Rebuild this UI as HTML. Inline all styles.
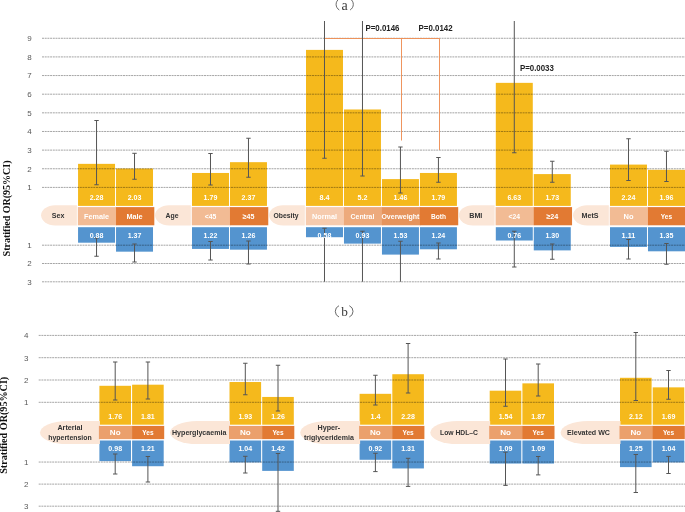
<!DOCTYPE html>
<html><head><meta charset="utf-8"><title>chart</title>
<style>html,body{margin:0;padding:0;background:#fff;overflow:hidden}body{width:685px;height:512px;font-family:"Liberation Sans",sans-serif}</style></head>
<body>
<svg width="685" height="512" viewBox="0 0 685 512" style="display:block;will-change:transform">
<g>
<rect x="78.05" y="163.85" width="36.98" height="42.05" fill="#F5B91C"/>
<rect x="78.05" y="227.2" width="36.98" height="15.50" fill="#5494CF"/>
<rect x="116.03" y="168.50" width="36.98" height="37.40" fill="#F5B91C"/>
<rect x="116.03" y="227.2" width="36.98" height="24.47" fill="#5494CF"/>
<rect x="192.00" y="172.97" width="36.98" height="32.93" fill="#F5B91C"/>
<rect x="192.00" y="227.2" width="36.98" height="21.73" fill="#5494CF"/>
<rect x="229.98" y="162.17" width="36.98" height="43.73" fill="#F5B91C"/>
<rect x="229.98" y="227.2" width="36.98" height="22.46" fill="#5494CF"/>
<rect x="306.00" y="49.89" width="36.98" height="156.01" fill="#F5B91C"/>
<rect x="306.00" y="227.2" width="36.98" height="10.01" fill="#5494CF"/>
<rect x="343.98" y="109.48" width="36.98" height="96.42" fill="#F5B91C"/>
<rect x="343.98" y="227.2" width="36.98" height="16.42" fill="#5494CF"/>
<rect x="381.96" y="179.11" width="36.98" height="26.79" fill="#F5B91C"/>
<rect x="381.96" y="227.2" width="36.98" height="27.40" fill="#5494CF"/>
<rect x="419.94" y="172.97" width="36.98" height="32.93" fill="#F5B91C"/>
<rect x="419.94" y="227.2" width="36.98" height="22.09" fill="#5494CF"/>
<rect x="495.80" y="82.85" width="36.98" height="123.05" fill="#F5B91C"/>
<rect x="495.80" y="227.2" width="36.98" height="13.31" fill="#5494CF"/>
<rect x="533.78" y="174.09" width="36.98" height="31.81" fill="#F5B91C"/>
<rect x="533.78" y="227.2" width="36.98" height="23.19" fill="#5494CF"/>
<rect x="610.00" y="164.59" width="36.98" height="41.31" fill="#F5B91C"/>
<rect x="610.00" y="227.2" width="36.98" height="19.71" fill="#5494CF"/>
<rect x="647.98" y="169.80" width="37.02" height="36.10" fill="#F5B91C"/>
<rect x="647.98" y="227.2" width="37.02" height="24.11" fill="#5494CF"/>
<rect x="99.40" y="385.80" width="31.60" height="38.90" fill="#F5B91C"/>
<rect x="99.40" y="440.5" width="31.60" height="20.61" fill="#5494CF"/>
<rect x="132.10" y="384.69" width="31.60" height="40.01" fill="#F5B91C"/>
<rect x="132.10" y="440.5" width="31.60" height="25.72" fill="#5494CF"/>
<rect x="229.50" y="382.02" width="31.60" height="42.68" fill="#F5B91C"/>
<rect x="229.50" y="440.5" width="31.60" height="21.94" fill="#5494CF"/>
<rect x="262.20" y="396.94" width="31.60" height="27.76" fill="#F5B91C"/>
<rect x="262.20" y="440.5" width="31.60" height="30.39" fill="#5494CF"/>
<rect x="359.60" y="393.82" width="31.60" height="30.88" fill="#F5B91C"/>
<rect x="359.60" y="440.5" width="31.60" height="19.27" fill="#5494CF"/>
<rect x="392.30" y="374.22" width="31.60" height="50.48" fill="#F5B91C"/>
<rect x="392.30" y="440.5" width="31.60" height="27.95" fill="#5494CF"/>
<rect x="489.70" y="390.70" width="31.60" height="34.00" fill="#F5B91C"/>
<rect x="489.70" y="440.5" width="31.60" height="23.05" fill="#5494CF"/>
<rect x="522.40" y="383.36" width="31.60" height="41.34" fill="#F5B91C"/>
<rect x="522.40" y="440.5" width="31.60" height="23.05" fill="#5494CF"/>
<rect x="620.00" y="377.79" width="31.60" height="46.91" fill="#F5B91C"/>
<rect x="620.00" y="440.5" width="31.60" height="26.61" fill="#5494CF"/>
<rect x="652.70" y="387.36" width="31.60" height="37.34" fill="#F5B91C"/>
<rect x="652.70" y="440.5" width="31.60" height="21.94" fill="#5494CF"/>
</g>
<g>
<line x1="42" y1="187.40" x2="685" y2="187.40" stroke="#000" stroke-opacity="0.45" stroke-width="0.8" stroke-dasharray="2 0.7"/>
<line x1="42" y1="168.76" x2="685" y2="168.76" stroke="#000" stroke-opacity="0.45" stroke-width="0.8" stroke-dasharray="2 0.7"/>
<line x1="42" y1="150.12" x2="685" y2="150.12" stroke="#000" stroke-opacity="0.45" stroke-width="0.8" stroke-dasharray="2 0.7"/>
<line x1="42" y1="131.48" x2="685" y2="131.48" stroke="#000" stroke-opacity="0.45" stroke-width="0.8" stroke-dasharray="2 0.7"/>
<line x1="42" y1="112.84" x2="685" y2="112.84" stroke="#000" stroke-opacity="0.45" stroke-width="0.8" stroke-dasharray="2 0.7"/>
<line x1="42" y1="94.20" x2="685" y2="94.20" stroke="#000" stroke-opacity="0.45" stroke-width="0.8" stroke-dasharray="2 0.7"/>
<line x1="42" y1="75.56" x2="685" y2="75.56" stroke="#000" stroke-opacity="0.45" stroke-width="0.8" stroke-dasharray="2 0.7"/>
<line x1="42" y1="56.92" x2="685" y2="56.92" stroke="#000" stroke-opacity="0.45" stroke-width="0.8" stroke-dasharray="2 0.7"/>
<line x1="42" y1="38.28" x2="685" y2="38.28" stroke="#000" stroke-opacity="0.45" stroke-width="0.8" stroke-dasharray="2 0.7"/>
<line x1="42" y1="245.20" x2="685" y2="245.20" stroke="#000" stroke-opacity="0.45" stroke-width="0.8" stroke-dasharray="2 0.7"/>
<line x1="42" y1="263.50" x2="685" y2="263.50" stroke="#000" stroke-opacity="0.45" stroke-width="0.8" stroke-dasharray="2 0.7"/>
<line x1="42" y1="281.80" x2="685" y2="281.80" stroke="#000" stroke-opacity="0.45" stroke-width="0.8" stroke-dasharray="2 0.7"/>
<line x1="38.7" y1="402.30" x2="685" y2="402.30" stroke="#000" stroke-opacity="0.45" stroke-width="0.8" stroke-dasharray="2 0.7"/>
<line x1="38.7" y1="380.00" x2="685" y2="380.00" stroke="#000" stroke-opacity="0.45" stroke-width="0.8" stroke-dasharray="2 0.7"/>
<line x1="38.7" y1="357.70" x2="685" y2="357.70" stroke="#000" stroke-opacity="0.45" stroke-width="0.8" stroke-dasharray="2 0.7"/>
<line x1="38.7" y1="335.40" x2="685" y2="335.40" stroke="#000" stroke-opacity="0.45" stroke-width="0.8" stroke-dasharray="2 0.7"/>
<line x1="38.7" y1="462.06" x2="685" y2="462.06" stroke="#000" stroke-opacity="0.45" stroke-width="0.8" stroke-dasharray="2 0.7"/>
<line x1="38.7" y1="484.12" x2="685" y2="484.12" stroke="#000" stroke-opacity="0.45" stroke-width="0.8" stroke-dasharray="2 0.7"/>
<line x1="38.7" y1="506.18" x2="685" y2="506.18" stroke="#000" stroke-opacity="0.45" stroke-width="0.8" stroke-dasharray="2 0.7"/>
</g>
<g>
<path d="M76.85 205.3 H55.05 A14 10.05 0 0 0 55.05 225.4 H76.85 Z" fill="#FBE6D7"/>
<rect x="77.85" y="207.1" width="38.68" height="18.2" fill="#F2BB94"/>
<rect x="116.03" y="207.1" width="38.28" height="18.2" fill="#E27A33"/>
<path d="M190.80 205.3 H169.00 A14 10.05 0 0 0 169.00 225.4 H190.80 Z" fill="#FBE6D7"/>
<rect x="191.80" y="207.1" width="38.68" height="18.2" fill="#F2BB94"/>
<rect x="229.98" y="207.1" width="38.28" height="18.2" fill="#E27A33"/>
<path d="M304.80 205.3 H283.00 A14 10.05 0 0 0 283.00 225.4 H304.80 Z" fill="#FBE6D7"/>
<rect x="305.80" y="207.1" width="38.68" height="18.2" fill="#F6CBAE"/>
<rect x="343.98" y="207.1" width="38.48" height="18.2" fill="#EDAA7C"/>
<rect x="381.96" y="207.1" width="38.48" height="18.2" fill="#E6945C"/>
<rect x="419.94" y="207.1" width="38.28" height="18.2" fill="#E27A33"/>
<path d="M494.60 205.3 H472.80 A14 10.05 0 0 0 472.80 225.4 H494.60 Z" fill="#FBE6D7"/>
<rect x="495.60" y="207.1" width="38.68" height="18.2" fill="#F2BB94"/>
<rect x="533.78" y="207.1" width="38.28" height="18.2" fill="#E27A33"/>
<path d="M608.80 205.3 H587.00 A14 10.05 0 0 0 587.00 225.4 H608.80 Z" fill="#FBE6D7"/>
<rect x="609.80" y="207.1" width="38.68" height="18.2" fill="#F2BB94"/>
<rect x="647.98" y="207.1" width="38.28" height="18.2" fill="#E27A33"/>
<path d="M99.90 421 H67.00 A27 11.55 0 0 0 67.00 444.1 H99.90 Z" fill="#FBE6D7"/>
<rect x="98.90" y="425.9" width="33.70" height="13.2" fill="#EBA06C"/>
<rect x="132.10" y="425.9" width="32.10" height="13.2" fill="#E27A33"/>
<path d="M230.00 421 H197.10 A27 11.55 0 0 0 197.10 444.1 H230.00 Z" fill="#FBE6D7"/>
<rect x="229.00" y="425.9" width="33.70" height="13.2" fill="#EBA06C"/>
<rect x="262.20" y="425.9" width="32.10" height="13.2" fill="#E27A33"/>
<path d="M360.10 421 H327.20 A27 11.55 0 0 0 327.20 444.1 H360.10 Z" fill="#FBE6D7"/>
<rect x="359.10" y="425.9" width="33.70" height="13.2" fill="#EBA06C"/>
<rect x="392.30" y="425.9" width="32.10" height="13.2" fill="#E27A33"/>
<path d="M490.20 421 H457.30 A27 11.55 0 0 0 457.30 444.1 H490.20 Z" fill="#FBE6D7"/>
<rect x="489.20" y="425.9" width="33.70" height="13.2" fill="#EBA06C"/>
<rect x="522.40" y="425.9" width="32.10" height="13.2" fill="#E27A33"/>
<path d="M620.50 421 H587.60 A27 11.55 0 0 0 587.60 444.1 H620.50 Z" fill="#FBE6D7"/>
<rect x="619.50" y="425.9" width="33.70" height="13.2" fill="#EBA06C"/>
<rect x="652.70" y="425.9" width="32.10" height="13.2" fill="#E27A33"/>
</g>
<path d="M324.5 38.5 H439.5 V150 M401.5 38.5 V140.5" fill="none" stroke="#EE8F55" stroke-width="0.95"/>
<g>
<line x1="96.54" y1="120.5" x2="96.54" y2="184.75" stroke="#555555" stroke-width="1"/>
<line x1="94.34" y1="120.5" x2="98.74" y2="120.5" stroke="#555555" stroke-width="1"/>
<line x1="94.34" y1="184.75" x2="98.74" y2="184.75" stroke="#555555" stroke-width="1"/>
<line x1="96.54" y1="238" x2="96.54" y2="256.25" stroke="#555555" stroke-width="1"/>
<line x1="94.34" y1="238" x2="98.74" y2="238" stroke="#555555" stroke-width="1"/>
<line x1="94.34" y1="256.25" x2="98.74" y2="256.25" stroke="#555555" stroke-width="1"/>
<line x1="134.52" y1="153.3" x2="134.52" y2="179.25" stroke="#555555" stroke-width="1"/>
<line x1="132.32" y1="153.3" x2="136.72" y2="153.3" stroke="#555555" stroke-width="1"/>
<line x1="132.32" y1="179.25" x2="136.72" y2="179.25" stroke="#555555" stroke-width="1"/>
<line x1="134.52" y1="244" x2="134.52" y2="262" stroke="#555555" stroke-width="1"/>
<line x1="132.32" y1="244" x2="136.72" y2="244" stroke="#555555" stroke-width="1"/>
<line x1="132.32" y1="262" x2="136.72" y2="262" stroke="#555555" stroke-width="1"/>
<line x1="210.49" y1="153.5" x2="210.49" y2="185" stroke="#555555" stroke-width="1"/>
<line x1="208.29" y1="153.5" x2="212.69" y2="153.5" stroke="#555555" stroke-width="1"/>
<line x1="208.29" y1="185" x2="212.69" y2="185" stroke="#555555" stroke-width="1"/>
<line x1="210.49" y1="241.5" x2="210.49" y2="260" stroke="#555555" stroke-width="1"/>
<line x1="208.29" y1="241.5" x2="212.69" y2="241.5" stroke="#555555" stroke-width="1"/>
<line x1="208.29" y1="260" x2="212.69" y2="260" stroke="#555555" stroke-width="1"/>
<line x1="248.47" y1="138.25" x2="248.47" y2="177.25" stroke="#555555" stroke-width="1"/>
<line x1="246.27" y1="138.25" x2="250.67" y2="138.25" stroke="#555555" stroke-width="1"/>
<line x1="246.27" y1="177.25" x2="250.67" y2="177.25" stroke="#555555" stroke-width="1"/>
<line x1="248.47" y1="241" x2="248.47" y2="264" stroke="#555555" stroke-width="1"/>
<line x1="246.27" y1="241" x2="250.67" y2="241" stroke="#555555" stroke-width="1"/>
<line x1="246.27" y1="264" x2="250.67" y2="264" stroke="#555555" stroke-width="1"/>
<line x1="324.49" y1="21" x2="324.49" y2="158.25" stroke="#555555" stroke-width="1"/>
<line x1="322.29" y1="158.25" x2="326.69" y2="158.25" stroke="#555555" stroke-width="1"/>
<line x1="324.49" y1="228.25" x2="324.49" y2="281.75" stroke="#555555" stroke-width="1"/>
<line x1="322.29" y1="228.25" x2="326.69" y2="228.25" stroke="#555555" stroke-width="1"/>
<line x1="362.47" y1="21" x2="362.47" y2="176" stroke="#555555" stroke-width="1"/>
<line x1="360.27" y1="176" x2="364.67" y2="176" stroke="#555555" stroke-width="1"/>
<line x1="362.47" y1="231.25" x2="362.47" y2="281.75" stroke="#555555" stroke-width="1"/>
<line x1="360.27" y1="231.25" x2="364.67" y2="231.25" stroke="#555555" stroke-width="1"/>
<line x1="400.45" y1="147" x2="400.45" y2="193" stroke="#555555" stroke-width="1"/>
<line x1="398.25" y1="147" x2="402.65" y2="147" stroke="#555555" stroke-width="1"/>
<line x1="398.25" y1="193" x2="402.65" y2="193" stroke="#555555" stroke-width="1"/>
<line x1="400.45" y1="241.25" x2="400.45" y2="281.75" stroke="#555555" stroke-width="1"/>
<line x1="398.25" y1="241.25" x2="402.65" y2="241.25" stroke="#555555" stroke-width="1"/>
<line x1="438.43" y1="157.5" x2="438.43" y2="182.25" stroke="#555555" stroke-width="1"/>
<line x1="436.23" y1="157.5" x2="440.63" y2="157.5" stroke="#555555" stroke-width="1"/>
<line x1="436.23" y1="182.25" x2="440.63" y2="182.25" stroke="#555555" stroke-width="1"/>
<line x1="438.43" y1="243" x2="438.43" y2="259" stroke="#555555" stroke-width="1"/>
<line x1="436.23" y1="243" x2="440.63" y2="243" stroke="#555555" stroke-width="1"/>
<line x1="436.23" y1="259" x2="440.63" y2="259" stroke="#555555" stroke-width="1"/>
<line x1="514.29" y1="21" x2="514.29" y2="152.75" stroke="#555555" stroke-width="1"/>
<line x1="512.09" y1="152.75" x2="516.49" y2="152.75" stroke="#555555" stroke-width="1"/>
<line x1="514.29" y1="231.25" x2="514.29" y2="267" stroke="#555555" stroke-width="1"/>
<line x1="512.09" y1="231.25" x2="516.49" y2="231.25" stroke="#555555" stroke-width="1"/>
<line x1="512.09" y1="267" x2="516.49" y2="267" stroke="#555555" stroke-width="1"/>
<line x1="552.27" y1="161.25" x2="552.27" y2="182.25" stroke="#555555" stroke-width="1"/>
<line x1="550.07" y1="161.25" x2="554.47" y2="161.25" stroke="#555555" stroke-width="1"/>
<line x1="550.07" y1="182.25" x2="554.47" y2="182.25" stroke="#555555" stroke-width="1"/>
<line x1="552.27" y1="244" x2="552.27" y2="259.25" stroke="#555555" stroke-width="1"/>
<line x1="550.07" y1="244" x2="554.47" y2="244" stroke="#555555" stroke-width="1"/>
<line x1="550.07" y1="259.25" x2="554.47" y2="259.25" stroke="#555555" stroke-width="1"/>
<line x1="628.49" y1="138.75" x2="628.49" y2="180.5" stroke="#555555" stroke-width="1"/>
<line x1="626.29" y1="138.75" x2="630.69" y2="138.75" stroke="#555555" stroke-width="1"/>
<line x1="626.29" y1="180.5" x2="630.69" y2="180.5" stroke="#555555" stroke-width="1"/>
<line x1="628.49" y1="239.5" x2="628.49" y2="259" stroke="#555555" stroke-width="1"/>
<line x1="626.29" y1="239.5" x2="630.69" y2="239.5" stroke="#555555" stroke-width="1"/>
<line x1="626.29" y1="259" x2="630.69" y2="259" stroke="#555555" stroke-width="1"/>
<line x1="666.47" y1="151.25" x2="666.47" y2="181.5" stroke="#555555" stroke-width="1"/>
<line x1="664.27" y1="151.25" x2="668.67" y2="151.25" stroke="#555555" stroke-width="1"/>
<line x1="664.27" y1="181.5" x2="668.67" y2="181.5" stroke="#555555" stroke-width="1"/>
<line x1="666.47" y1="243.5" x2="666.47" y2="264.25" stroke="#555555" stroke-width="1"/>
<line x1="664.27" y1="243.5" x2="668.67" y2="243.5" stroke="#555555" stroke-width="1"/>
<line x1="664.27" y1="264.25" x2="668.67" y2="264.25" stroke="#555555" stroke-width="1"/>
<path d="M339.3 -1.2 A6.50 6.50 0 0 0 339.3 10.0 M350.1 -1.2 A6.50 6.50 0 0 1 350.1 10.0" fill="none" stroke="#444" stroke-width="0.8"/>
<path d="M339.0 305.7 A6.16 6.16 0 0 0 339.0 317.0 M349.3 305.7 A6.16 6.16 0 0 1 349.3 317.0" fill="none" stroke="#444" stroke-width="0.8"/>
<line x1="115.20" y1="362" x2="115.20" y2="400" stroke="#555555" stroke-width="1"/>
<line x1="113.00" y1="362" x2="117.40" y2="362" stroke="#555555" stroke-width="1"/>
<line x1="113.00" y1="400" x2="117.40" y2="400" stroke="#555555" stroke-width="1"/>
<line x1="115.20" y1="454" x2="115.20" y2="474" stroke="#555555" stroke-width="1"/>
<line x1="113.00" y1="454" x2="117.40" y2="454" stroke="#555555" stroke-width="1"/>
<line x1="113.00" y1="474" x2="117.40" y2="474" stroke="#555555" stroke-width="1"/>
<line x1="147.90" y1="362" x2="147.90" y2="399" stroke="#555555" stroke-width="1"/>
<line x1="145.70" y1="362" x2="150.10" y2="362" stroke="#555555" stroke-width="1"/>
<line x1="145.70" y1="399" x2="150.10" y2="399" stroke="#555555" stroke-width="1"/>
<line x1="147.90" y1="456.5" x2="147.90" y2="482" stroke="#555555" stroke-width="1"/>
<line x1="145.70" y1="456.5" x2="150.10" y2="456.5" stroke="#555555" stroke-width="1"/>
<line x1="145.70" y1="482" x2="150.10" y2="482" stroke="#555555" stroke-width="1"/>
<line x1="245.30" y1="363.25" x2="245.30" y2="394.75" stroke="#555555" stroke-width="1"/>
<line x1="243.10" y1="363.25" x2="247.50" y2="363.25" stroke="#555555" stroke-width="1"/>
<line x1="243.10" y1="394.75" x2="247.50" y2="394.75" stroke="#555555" stroke-width="1"/>
<line x1="245.30" y1="456.3" x2="245.30" y2="473" stroke="#555555" stroke-width="1"/>
<line x1="243.10" y1="456.3" x2="247.50" y2="456.3" stroke="#555555" stroke-width="1"/>
<line x1="243.10" y1="473" x2="247.50" y2="473" stroke="#555555" stroke-width="1"/>
<line x1="278.00" y1="365.25" x2="278.00" y2="411" stroke="#555555" stroke-width="1"/>
<line x1="275.80" y1="365.25" x2="280.20" y2="365.25" stroke="#555555" stroke-width="1"/>
<line x1="275.80" y1="411" x2="280.20" y2="411" stroke="#555555" stroke-width="1"/>
<line x1="278.00" y1="453.5" x2="278.00" y2="511.3" stroke="#555555" stroke-width="1"/>
<line x1="275.80" y1="453.5" x2="280.20" y2="453.5" stroke="#555555" stroke-width="1"/>
<line x1="275.80" y1="511.3" x2="280.20" y2="511.3" stroke="#555555" stroke-width="1"/>
<line x1="375.40" y1="375.25" x2="375.40" y2="405" stroke="#555555" stroke-width="1"/>
<line x1="373.20" y1="375.25" x2="377.60" y2="375.25" stroke="#555555" stroke-width="1"/>
<line x1="373.20" y1="405" x2="377.60" y2="405" stroke="#555555" stroke-width="1"/>
<line x1="375.40" y1="453.3" x2="375.40" y2="471.6" stroke="#555555" stroke-width="1"/>
<line x1="373.20" y1="453.3" x2="377.60" y2="453.3" stroke="#555555" stroke-width="1"/>
<line x1="373.20" y1="471.6" x2="377.60" y2="471.6" stroke="#555555" stroke-width="1"/>
<line x1="408.10" y1="343.5" x2="408.10" y2="393" stroke="#555555" stroke-width="1"/>
<line x1="405.90" y1="343.5" x2="410.30" y2="343.5" stroke="#555555" stroke-width="1"/>
<line x1="405.90" y1="393" x2="410.30" y2="393" stroke="#555555" stroke-width="1"/>
<line x1="408.10" y1="458.3" x2="408.10" y2="486.4" stroke="#555555" stroke-width="1"/>
<line x1="405.90" y1="458.3" x2="410.30" y2="458.3" stroke="#555555" stroke-width="1"/>
<line x1="405.90" y1="486.4" x2="410.30" y2="486.4" stroke="#555555" stroke-width="1"/>
<line x1="505.50" y1="359" x2="505.50" y2="406.25" stroke="#555555" stroke-width="1"/>
<line x1="503.30" y1="359" x2="507.70" y2="359" stroke="#555555" stroke-width="1"/>
<line x1="503.30" y1="406.25" x2="507.70" y2="406.25" stroke="#555555" stroke-width="1"/>
<line x1="505.50" y1="452.2" x2="505.50" y2="485.4" stroke="#555555" stroke-width="1"/>
<line x1="503.30" y1="452.2" x2="507.70" y2="452.2" stroke="#555555" stroke-width="1"/>
<line x1="503.30" y1="485.4" x2="507.70" y2="485.4" stroke="#555555" stroke-width="1"/>
<line x1="538.20" y1="364" x2="538.20" y2="396" stroke="#555555" stroke-width="1"/>
<line x1="536.00" y1="364" x2="540.40" y2="364" stroke="#555555" stroke-width="1"/>
<line x1="536.00" y1="396" x2="540.40" y2="396" stroke="#555555" stroke-width="1"/>
<line x1="538.20" y1="456.5" x2="538.20" y2="474.9" stroke="#555555" stroke-width="1"/>
<line x1="536.00" y1="456.5" x2="540.40" y2="456.5" stroke="#555555" stroke-width="1"/>
<line x1="536.00" y1="474.9" x2="540.40" y2="474.9" stroke="#555555" stroke-width="1"/>
<line x1="635.80" y1="332.5" x2="635.80" y2="400.5" stroke="#555555" stroke-width="1"/>
<line x1="633.60" y1="332.5" x2="638.00" y2="332.5" stroke="#555555" stroke-width="1"/>
<line x1="633.60" y1="400.5" x2="638.00" y2="400.5" stroke="#555555" stroke-width="1"/>
<line x1="635.80" y1="454.5" x2="635.80" y2="492.5" stroke="#555555" stroke-width="1"/>
<line x1="633.60" y1="454.5" x2="638.00" y2="454.5" stroke="#555555" stroke-width="1"/>
<line x1="633.60" y1="492.5" x2="638.00" y2="492.5" stroke="#555555" stroke-width="1"/>
<line x1="668.50" y1="370.5" x2="668.50" y2="399.25" stroke="#555555" stroke-width="1"/>
<line x1="666.30" y1="370.5" x2="670.70" y2="370.5" stroke="#555555" stroke-width="1"/>
<line x1="666.30" y1="399.25" x2="670.70" y2="399.25" stroke="#555555" stroke-width="1"/>
<line x1="668.50" y1="456.4" x2="668.50" y2="473.5" stroke="#555555" stroke-width="1"/>
<line x1="666.30" y1="456.4" x2="670.70" y2="456.4" stroke="#555555" stroke-width="1"/>
<line x1="666.30" y1="473.5" x2="670.70" y2="473.5" stroke="#555555" stroke-width="1"/>
</g>
<g>
<text x="29.60" y="190.26" font-family="Liberation Sans, sans-serif" font-size="8" font-weight="normal" fill="#595959" text-anchor="middle">1</text>
<text x="29.60" y="171.62" font-family="Liberation Sans, sans-serif" font-size="8" font-weight="normal" fill="#595959" text-anchor="middle">2</text>
<text x="29.60" y="152.98" font-family="Liberation Sans, sans-serif" font-size="8" font-weight="normal" fill="#595959" text-anchor="middle">3</text>
<text x="29.60" y="134.34" font-family="Liberation Sans, sans-serif" font-size="8" font-weight="normal" fill="#595959" text-anchor="middle">4</text>
<text x="29.60" y="115.70" font-family="Liberation Sans, sans-serif" font-size="8" font-weight="normal" fill="#595959" text-anchor="middle">5</text>
<text x="29.60" y="97.06" font-family="Liberation Sans, sans-serif" font-size="8" font-weight="normal" fill="#595959" text-anchor="middle">6</text>
<text x="29.60" y="78.42" font-family="Liberation Sans, sans-serif" font-size="8" font-weight="normal" fill="#595959" text-anchor="middle">7</text>
<text x="29.60" y="59.78" font-family="Liberation Sans, sans-serif" font-size="8" font-weight="normal" fill="#595959" text-anchor="middle">8</text>
<text x="29.60" y="41.14" font-family="Liberation Sans, sans-serif" font-size="8" font-weight="normal" fill="#595959" text-anchor="middle">9</text>
<text x="29.60" y="248.06" font-family="Liberation Sans, sans-serif" font-size="8" font-weight="normal" fill="#595959" text-anchor="middle">1</text>
<text x="29.60" y="266.36" font-family="Liberation Sans, sans-serif" font-size="8" font-weight="normal" fill="#595959" text-anchor="middle">2</text>
<text x="29.60" y="284.66" font-family="Liberation Sans, sans-serif" font-size="8" font-weight="normal" fill="#595959" text-anchor="middle">3</text>
<text x="58.05" y="218.32" font-family="Liberation Sans, sans-serif" font-size="7.6" font-weight="bold" fill="#333" text-anchor="middle" textLength="12.6" lengthAdjust="spacingAndGlyphs">Sex</text>
<text x="96.54" y="199.79" font-family="Liberation Sans, sans-serif" font-size="7.8" font-weight="bold" fill="#fff" text-anchor="middle" textLength="13.75" lengthAdjust="spacingAndGlyphs">2.28</text>
<text x="96.54" y="238.39" font-family="Liberation Sans, sans-serif" font-size="7.8" font-weight="bold" fill="#fff" text-anchor="middle" textLength="13.75" lengthAdjust="spacingAndGlyphs">0.88</text>
<text x="96.54" y="218.85" font-family="Liberation Sans, sans-serif" font-size="7.4" font-weight="bold" fill="#fff" text-anchor="middle" textLength="25" lengthAdjust="spacingAndGlyphs">Female</text>
<text x="134.52" y="199.79" font-family="Liberation Sans, sans-serif" font-size="7.8" font-weight="bold" fill="#fff" text-anchor="middle" textLength="13.75" lengthAdjust="spacingAndGlyphs">2.03</text>
<text x="134.52" y="238.39" font-family="Liberation Sans, sans-serif" font-size="7.8" font-weight="bold" fill="#fff" text-anchor="middle" textLength="13.75" lengthAdjust="spacingAndGlyphs">1.37</text>
<text x="134.52" y="218.85" font-family="Liberation Sans, sans-serif" font-size="7.4" font-weight="bold" fill="#fff" text-anchor="middle" textLength="16.25" lengthAdjust="spacingAndGlyphs">Male</text>
<text x="172.00" y="218.32" font-family="Liberation Sans, sans-serif" font-size="7.6" font-weight="bold" fill="#333" text-anchor="middle" textLength="13" lengthAdjust="spacingAndGlyphs">Age</text>
<text x="210.49" y="199.79" font-family="Liberation Sans, sans-serif" font-size="7.8" font-weight="bold" fill="#fff" text-anchor="middle" textLength="13.75" lengthAdjust="spacingAndGlyphs">1.79</text>
<text x="210.49" y="238.39" font-family="Liberation Sans, sans-serif" font-size="7.8" font-weight="bold" fill="#fff" text-anchor="middle" textLength="13.75" lengthAdjust="spacingAndGlyphs">1.22</text>
<text x="210.49" y="218.85" font-family="Liberation Sans, sans-serif" font-size="7.4" font-weight="bold" fill="#fff" text-anchor="middle" textLength="11.5" lengthAdjust="spacingAndGlyphs">&lt;45</text>
<text x="248.47" y="199.79" font-family="Liberation Sans, sans-serif" font-size="7.8" font-weight="bold" fill="#fff" text-anchor="middle" textLength="13.75" lengthAdjust="spacingAndGlyphs">2.37</text>
<text x="248.47" y="238.39" font-family="Liberation Sans, sans-serif" font-size="7.8" font-weight="bold" fill="#fff" text-anchor="middle" textLength="13.75" lengthAdjust="spacingAndGlyphs">1.26</text>
<text x="248.47" y="218.85" font-family="Liberation Sans, sans-serif" font-size="7.4" font-weight="bold" fill="#fff" text-anchor="middle" textLength="11.75" lengthAdjust="spacingAndGlyphs">≥45</text>
<text x="286.00" y="218.32" font-family="Liberation Sans, sans-serif" font-size="7.6" font-weight="bold" fill="#333" text-anchor="middle" textLength="25" lengthAdjust="spacingAndGlyphs">Obesity</text>
<text x="324.49" y="199.79" font-family="Liberation Sans, sans-serif" font-size="7.8" font-weight="bold" fill="#fff" text-anchor="middle" textLength="10.0" lengthAdjust="spacingAndGlyphs">8.4</text>
<text x="324.49" y="238.39" font-family="Liberation Sans, sans-serif" font-size="7.8" font-weight="bold" fill="#fff" text-anchor="middle" textLength="13.75" lengthAdjust="spacingAndGlyphs">0.58</text>
<text x="324.49" y="218.85" font-family="Liberation Sans, sans-serif" font-size="7.4" font-weight="bold" fill="#fff" text-anchor="middle" textLength="25" lengthAdjust="spacingAndGlyphs">Normal</text>
<text x="362.47" y="199.79" font-family="Liberation Sans, sans-serif" font-size="7.8" font-weight="bold" fill="#fff" text-anchor="middle" textLength="10.0" lengthAdjust="spacingAndGlyphs">5.2</text>
<text x="362.47" y="238.39" font-family="Liberation Sans, sans-serif" font-size="7.8" font-weight="bold" fill="#fff" text-anchor="middle" textLength="13.75" lengthAdjust="spacingAndGlyphs">0.93</text>
<text x="362.47" y="218.85" font-family="Liberation Sans, sans-serif" font-size="7.4" font-weight="bold" fill="#fff" text-anchor="middle" textLength="23.75" lengthAdjust="spacingAndGlyphs">Central</text>
<text x="400.45" y="199.79" font-family="Liberation Sans, sans-serif" font-size="7.8" font-weight="bold" fill="#fff" text-anchor="middle" textLength="13.75" lengthAdjust="spacingAndGlyphs">1.46</text>
<text x="400.45" y="238.39" font-family="Liberation Sans, sans-serif" font-size="7.8" font-weight="bold" fill="#fff" text-anchor="middle" textLength="13.75" lengthAdjust="spacingAndGlyphs">1.53</text>
<text x="400.45" y="218.85" font-family="Liberation Sans, sans-serif" font-size="7.4" font-weight="bold" fill="#fff" text-anchor="middle" textLength="38" lengthAdjust="spacingAndGlyphs">Overweight</text>
<text x="438.43" y="199.79" font-family="Liberation Sans, sans-serif" font-size="7.8" font-weight="bold" fill="#fff" text-anchor="middle" textLength="13.75" lengthAdjust="spacingAndGlyphs">1.79</text>
<text x="438.43" y="238.39" font-family="Liberation Sans, sans-serif" font-size="7.8" font-weight="bold" fill="#fff" text-anchor="middle" textLength="13.75" lengthAdjust="spacingAndGlyphs">1.24</text>
<text x="438.43" y="218.85" font-family="Liberation Sans, sans-serif" font-size="7.4" font-weight="bold" fill="#fff" text-anchor="middle" textLength="15" lengthAdjust="spacingAndGlyphs">Both</text>
<text x="475.80" y="218.32" font-family="Liberation Sans, sans-serif" font-size="7.6" font-weight="bold" fill="#333" text-anchor="middle" textLength="13.1" lengthAdjust="spacingAndGlyphs">BMI</text>
<text x="514.29" y="199.79" font-family="Liberation Sans, sans-serif" font-size="7.8" font-weight="bold" fill="#fff" text-anchor="middle" textLength="13.75" lengthAdjust="spacingAndGlyphs">6.63</text>
<text x="514.29" y="238.39" font-family="Liberation Sans, sans-serif" font-size="7.8" font-weight="bold" fill="#fff" text-anchor="middle" textLength="13.75" lengthAdjust="spacingAndGlyphs">0.76</text>
<text x="514.29" y="218.85" font-family="Liberation Sans, sans-serif" font-size="7.4" font-weight="bold" fill="#fff" text-anchor="middle" textLength="11.5" lengthAdjust="spacingAndGlyphs">&lt;24</text>
<text x="552.27" y="199.79" font-family="Liberation Sans, sans-serif" font-size="7.8" font-weight="bold" fill="#fff" text-anchor="middle" textLength="13.75" lengthAdjust="spacingAndGlyphs">1.73</text>
<text x="552.27" y="238.39" font-family="Liberation Sans, sans-serif" font-size="7.8" font-weight="bold" fill="#fff" text-anchor="middle" textLength="13.75" lengthAdjust="spacingAndGlyphs">1.30</text>
<text x="552.27" y="218.85" font-family="Liberation Sans, sans-serif" font-size="7.4" font-weight="bold" fill="#fff" text-anchor="middle" textLength="12" lengthAdjust="spacingAndGlyphs">≥24</text>
<text x="590.00" y="218.32" font-family="Liberation Sans, sans-serif" font-size="7.6" font-weight="bold" fill="#333" text-anchor="middle" textLength="17" lengthAdjust="spacingAndGlyphs">MetS</text>
<text x="628.49" y="199.79" font-family="Liberation Sans, sans-serif" font-size="7.8" font-weight="bold" fill="#fff" text-anchor="middle" textLength="13.75" lengthAdjust="spacingAndGlyphs">2.24</text>
<text x="628.49" y="238.39" font-family="Liberation Sans, sans-serif" font-size="7.8" font-weight="bold" fill="#fff" text-anchor="middle" textLength="13.75" lengthAdjust="spacingAndGlyphs">1.11</text>
<text x="628.49" y="218.85" font-family="Liberation Sans, sans-serif" font-size="7.4" font-weight="bold" fill="#fff" text-anchor="middle" textLength="10" lengthAdjust="spacingAndGlyphs">No</text>
<text x="666.47" y="199.79" font-family="Liberation Sans, sans-serif" font-size="7.8" font-weight="bold" fill="#fff" text-anchor="middle" textLength="13.75" lengthAdjust="spacingAndGlyphs">1.96</text>
<text x="666.47" y="238.39" font-family="Liberation Sans, sans-serif" font-size="7.8" font-weight="bold" fill="#fff" text-anchor="middle" textLength="13.75" lengthAdjust="spacingAndGlyphs">1.35</text>
<text x="666.47" y="218.85" font-family="Liberation Sans, sans-serif" font-size="7.4" font-weight="bold" fill="#fff" text-anchor="middle" textLength="11.25" lengthAdjust="spacingAndGlyphs">Yes</text>
<text x="382.50" y="30.94" font-family="Liberation Sans, sans-serif" font-size="8.2" font-weight="bold" fill="#222" text-anchor="middle" textLength="34" lengthAdjust="spacingAndGlyphs">P=0.0146</text>
<text x="435.60" y="30.54" font-family="Liberation Sans, sans-serif" font-size="8.2" font-weight="bold" fill="#222" text-anchor="middle" textLength="34" lengthAdjust="spacingAndGlyphs">P=0.0142</text>
<text x="536.90" y="70.94" font-family="Liberation Sans, sans-serif" font-size="8.2" font-weight="bold" fill="#222" text-anchor="middle" textLength="34" lengthAdjust="spacingAndGlyphs">P=0.0033</text>
<text x="344.6" y="9.6" font-family="Liberation Serif, serif" font-size="14" fill="#3a3a3a" text-anchor="middle">a</text>
<text x="344.6" y="316.1" font-family="Liberation Serif, serif" font-size="13.3" fill="#3a3a3a" text-anchor="middle">b</text>
<text x="26.20" y="405.16" font-family="Liberation Sans, sans-serif" font-size="8" font-weight="normal" fill="#595959" text-anchor="middle">1</text>
<text x="26.20" y="382.86" font-family="Liberation Sans, sans-serif" font-size="8" font-weight="normal" fill="#595959" text-anchor="middle">2</text>
<text x="26.20" y="360.56" font-family="Liberation Sans, sans-serif" font-size="8" font-weight="normal" fill="#595959" text-anchor="middle">3</text>
<text x="26.20" y="338.26" font-family="Liberation Sans, sans-serif" font-size="8" font-weight="normal" fill="#595959" text-anchor="middle">4</text>
<text x="26.20" y="464.92" font-family="Liberation Sans, sans-serif" font-size="8" font-weight="normal" fill="#595959" text-anchor="middle">1</text>
<text x="26.20" y="486.98" font-family="Liberation Sans, sans-serif" font-size="8" font-weight="normal" fill="#595959" text-anchor="middle">2</text>
<text x="26.20" y="509.04" font-family="Liberation Sans, sans-serif" font-size="8" font-weight="normal" fill="#595959" text-anchor="middle">3</text>
<text x="70.00" y="430.22" font-family="Liberation Sans, sans-serif" font-size="7.6" font-weight="bold" fill="#333" text-anchor="middle" textLength="25.2" lengthAdjust="spacingAndGlyphs">Arterial</text>
<text x="70.00" y="439.72" font-family="Liberation Sans, sans-serif" font-size="7.6" font-weight="bold" fill="#333" text-anchor="middle" textLength="43.4" lengthAdjust="spacingAndGlyphs">hypertension</text>
<text x="115.20" y="418.79" font-family="Liberation Sans, sans-serif" font-size="7.8" font-weight="bold" fill="#fff" text-anchor="middle" textLength="13.75" lengthAdjust="spacingAndGlyphs">1.76</text>
<text x="115.20" y="451.09" font-family="Liberation Sans, sans-serif" font-size="7.8" font-weight="bold" fill="#fff" text-anchor="middle" textLength="13.75" lengthAdjust="spacingAndGlyphs">0.98</text>
<text x="115.20" y="434.85" font-family="Liberation Sans, sans-serif" font-size="7.4" font-weight="bold" fill="#fff" text-anchor="middle" textLength="10.75" lengthAdjust="spacingAndGlyphs">No</text>
<text x="147.90" y="418.79" font-family="Liberation Sans, sans-serif" font-size="7.8" font-weight="bold" fill="#fff" text-anchor="middle" textLength="13.75" lengthAdjust="spacingAndGlyphs">1.81</text>
<text x="147.90" y="451.09" font-family="Liberation Sans, sans-serif" font-size="7.8" font-weight="bold" fill="#fff" text-anchor="middle" textLength="13.75" lengthAdjust="spacingAndGlyphs">1.21</text>
<text x="147.90" y="434.85" font-family="Liberation Sans, sans-serif" font-size="7.4" font-weight="bold" fill="#fff" text-anchor="middle" textLength="11.25" lengthAdjust="spacingAndGlyphs">Yes</text>
<text x="199.20" y="435.02" font-family="Liberation Sans, sans-serif" font-size="7.6" font-weight="bold" fill="#333" text-anchor="middle" textLength="54.4" lengthAdjust="spacingAndGlyphs">Hyperglycaemia</text>
<text x="245.30" y="418.79" font-family="Liberation Sans, sans-serif" font-size="7.8" font-weight="bold" fill="#fff" text-anchor="middle" textLength="13.75" lengthAdjust="spacingAndGlyphs">1.93</text>
<text x="245.30" y="451.09" font-family="Liberation Sans, sans-serif" font-size="7.8" font-weight="bold" fill="#fff" text-anchor="middle" textLength="13.75" lengthAdjust="spacingAndGlyphs">1.04</text>
<text x="245.30" y="434.85" font-family="Liberation Sans, sans-serif" font-size="7.4" font-weight="bold" fill="#fff" text-anchor="middle" textLength="10.75" lengthAdjust="spacingAndGlyphs">No</text>
<text x="278.00" y="418.79" font-family="Liberation Sans, sans-serif" font-size="7.8" font-weight="bold" fill="#fff" text-anchor="middle" textLength="13.75" lengthAdjust="spacingAndGlyphs">1.26</text>
<text x="278.00" y="451.09" font-family="Liberation Sans, sans-serif" font-size="7.8" font-weight="bold" fill="#fff" text-anchor="middle" textLength="13.75" lengthAdjust="spacingAndGlyphs">1.42</text>
<text x="278.00" y="434.85" font-family="Liberation Sans, sans-serif" font-size="7.4" font-weight="bold" fill="#fff" text-anchor="middle" textLength="11.25" lengthAdjust="spacingAndGlyphs">Yes</text>
<text x="328.90" y="430.22" font-family="Liberation Sans, sans-serif" font-size="7.6" font-weight="bold" fill="#333" text-anchor="middle" textLength="22.75" lengthAdjust="spacingAndGlyphs">Hyper-</text>
<text x="328.90" y="439.72" font-family="Liberation Sans, sans-serif" font-size="7.6" font-weight="bold" fill="#333" text-anchor="middle" textLength="50" lengthAdjust="spacingAndGlyphs">triglyceridemia</text>
<text x="375.40" y="418.79" font-family="Liberation Sans, sans-serif" font-size="7.8" font-weight="bold" fill="#fff" text-anchor="middle" textLength="10.0" lengthAdjust="spacingAndGlyphs">1.4</text>
<text x="375.40" y="451.09" font-family="Liberation Sans, sans-serif" font-size="7.8" font-weight="bold" fill="#fff" text-anchor="middle" textLength="13.75" lengthAdjust="spacingAndGlyphs">0.92</text>
<text x="375.40" y="434.85" font-family="Liberation Sans, sans-serif" font-size="7.4" font-weight="bold" fill="#fff" text-anchor="middle" textLength="10.75" lengthAdjust="spacingAndGlyphs">No</text>
<text x="408.10" y="418.79" font-family="Liberation Sans, sans-serif" font-size="7.8" font-weight="bold" fill="#fff" text-anchor="middle" textLength="13.75" lengthAdjust="spacingAndGlyphs">2.28</text>
<text x="408.10" y="451.09" font-family="Liberation Sans, sans-serif" font-size="7.8" font-weight="bold" fill="#fff" text-anchor="middle" textLength="13.75" lengthAdjust="spacingAndGlyphs">1.31</text>
<text x="408.10" y="434.85" font-family="Liberation Sans, sans-serif" font-size="7.4" font-weight="bold" fill="#fff" text-anchor="middle" textLength="11.25" lengthAdjust="spacingAndGlyphs">Yes</text>
<text x="459.00" y="435.02" font-family="Liberation Sans, sans-serif" font-size="7.6" font-weight="bold" fill="#333" text-anchor="middle" textLength="38" lengthAdjust="spacingAndGlyphs">Low HDL–C</text>
<text x="505.50" y="418.79" font-family="Liberation Sans, sans-serif" font-size="7.8" font-weight="bold" fill="#fff" text-anchor="middle" textLength="13.75" lengthAdjust="spacingAndGlyphs">1.54</text>
<text x="505.50" y="451.09" font-family="Liberation Sans, sans-serif" font-size="7.8" font-weight="bold" fill="#fff" text-anchor="middle" textLength="13.75" lengthAdjust="spacingAndGlyphs">1.09</text>
<text x="505.50" y="434.85" font-family="Liberation Sans, sans-serif" font-size="7.4" font-weight="bold" fill="#fff" text-anchor="middle" textLength="10.75" lengthAdjust="spacingAndGlyphs">No</text>
<text x="538.20" y="418.79" font-family="Liberation Sans, sans-serif" font-size="7.8" font-weight="bold" fill="#fff" text-anchor="middle" textLength="13.75" lengthAdjust="spacingAndGlyphs">1.87</text>
<text x="538.20" y="451.09" font-family="Liberation Sans, sans-serif" font-size="7.8" font-weight="bold" fill="#fff" text-anchor="middle" textLength="13.75" lengthAdjust="spacingAndGlyphs">1.09</text>
<text x="538.20" y="434.85" font-family="Liberation Sans, sans-serif" font-size="7.4" font-weight="bold" fill="#fff" text-anchor="middle" textLength="11.25" lengthAdjust="spacingAndGlyphs">Yes</text>
<text x="588.50" y="435.02" font-family="Liberation Sans, sans-serif" font-size="7.6" font-weight="bold" fill="#333" text-anchor="middle" textLength="43" lengthAdjust="spacingAndGlyphs">Elevated WC</text>
<text x="635.80" y="418.79" font-family="Liberation Sans, sans-serif" font-size="7.8" font-weight="bold" fill="#fff" text-anchor="middle" textLength="13.75" lengthAdjust="spacingAndGlyphs">2.12</text>
<text x="635.80" y="451.09" font-family="Liberation Sans, sans-serif" font-size="7.8" font-weight="bold" fill="#fff" text-anchor="middle" textLength="13.75" lengthAdjust="spacingAndGlyphs">1.25</text>
<text x="635.80" y="434.85" font-family="Liberation Sans, sans-serif" font-size="7.4" font-weight="bold" fill="#fff" text-anchor="middle" textLength="10.75" lengthAdjust="spacingAndGlyphs">No</text>
<text x="668.50" y="418.79" font-family="Liberation Sans, sans-serif" font-size="7.8" font-weight="bold" fill="#fff" text-anchor="middle" textLength="13.75" lengthAdjust="spacingAndGlyphs">1.69</text>
<text x="668.50" y="451.09" font-family="Liberation Sans, sans-serif" font-size="7.8" font-weight="bold" fill="#fff" text-anchor="middle" textLength="13.75" lengthAdjust="spacingAndGlyphs">1.04</text>
<text x="668.50" y="434.85" font-family="Liberation Sans, sans-serif" font-size="7.4" font-weight="bold" fill="#fff" text-anchor="middle" textLength="11.25" lengthAdjust="spacingAndGlyphs">Yes</text>
<text transform="translate(7.0,208.4) rotate(-90)" x="0" y="3.4" font-family="Liberation Serif, serif" font-size="10" font-weight="bold" fill="#111" text-anchor="middle" textLength="96" lengthAdjust="spacingAndGlyphs">Stratified OR(95%CI)</text>
<text transform="translate(4.0,425.3) rotate(-90)" x="0" y="3.4" font-family="Liberation Serif, serif" font-size="10" font-weight="bold" fill="#111" text-anchor="middle" textLength="97" lengthAdjust="spacingAndGlyphs">Stratified OR(95%CI)</text>
</g>
</svg>
</body></html>
